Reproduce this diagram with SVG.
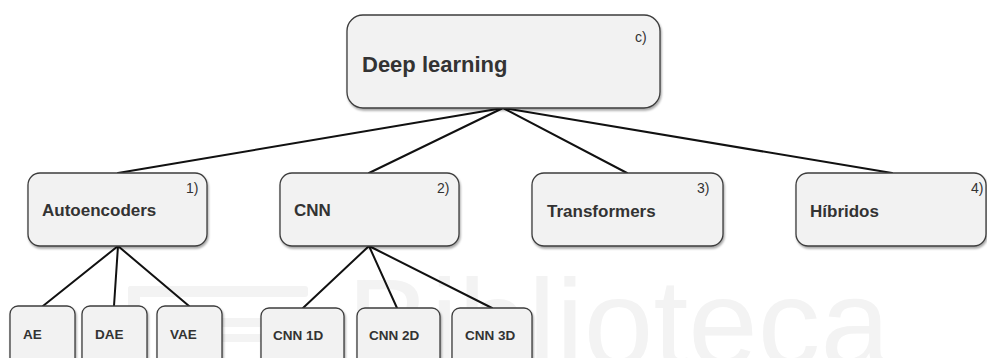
<svg xmlns="http://www.w3.org/2000/svg" width="987" height="358" viewBox="0 0 987 358">
  <defs>
    <filter id="shadow" x="-10%" y="-10%" width="120%" height="130%">
      <feDropShadow dx="1" dy="2" stdDeviation="1.2" flood-color="#000" flood-opacity="0.35"/>
    </filter>
    <style>
      .box { fill: #f2f2f2; stroke: #3c3c3c; stroke-width: 1.3; filter: url(#shadow); }
      .title { font-family: "Liberation Sans", Arial, sans-serif; font-weight: bold; fill: #333; }
      .tag { font-family: "Liberation Sans", Arial, sans-serif; font-size: 14px; fill: #333; }
      .leaf { font-family: "Liberation Sans", Arial, sans-serif; font-weight: bold; font-size: 13.5px; fill: #333; }
      .edge { stroke: #111; stroke-width: 2; fill: none; stroke-linecap: round; }
      .wm { fill: #f3f3f3; }
    </style>
  </defs>

  <rect width="987" height="358" fill="#ffffff"/>

  <!-- faint background watermark -->
  <g id="watermark">
    <rect class="wm" x="128" y="286" width="180" height="11" rx="3"/>
    <rect class="wm" x="128" y="286" width="12" height="72" rx="3"/>
    <rect class="wm" x="160" y="318" width="150" height="9" rx="2"/>
    <rect class="wm" x="160" y="334" width="150" height="8" rx="2"/>
    <text x="347" y="366" font-family="'Liberation Sans', Arial, sans-serif" font-size="125" class="wm" textLength="543" lengthAdjust="spacing">Biblioteca</text>
  </g>

  <!-- connectors -->
  <g id="connectors">
    <line class="edge" x1="503" y1="108" x2="118" y2="173"/>
    <line class="edge" x1="503" y1="108" x2="369" y2="173"/>
    <line class="edge" x1="503" y1="108" x2="627" y2="173"/>
    <line class="edge" x1="503" y1="108" x2="892" y2="173"/>
    <line class="edge" x1="118" y1="246" x2="43" y2="306"/>
    <line class="edge" x1="118" y1="246" x2="114" y2="306"/>
    <line class="edge" x1="118" y1="246" x2="189" y2="306"/>
    <line class="edge" x1="369" y1="246" x2="303" y2="308"/>
    <line class="edge" x1="369" y1="246" x2="397" y2="308"/>
    <line class="edge" x1="369" y1="246" x2="492" y2="308"/>
  </g>

  <!-- root -->
  <g id="deep-learning">
    <rect class="box" x="347" y="15" width="313" height="93" rx="16"/>
    <text class="title" x="362" y="72" font-size="22">Deep learning</text>
    <text class="tag" x="635" y="42">c)</text>
  </g>

  <!-- families -->
  <g id="autoencoders">
    <rect class="box" x="28" y="173" width="179" height="73" rx="12"/>
    <text class="title" x="42" y="216" font-size="17">Autoencoders</text>
    <text class="tag" x="186" y="193">1)</text>
  </g>
  <g id="cnn">
    <rect class="box" x="280" y="173" width="179" height="73" rx="12"/>
    <text class="title" x="294" y="216" font-size="17">CNN</text>
    <text class="tag" x="437" y="193">2)</text>
  </g>
  <g id="transformers">
    <rect class="box" x="532" y="173" width="191" height="73" rx="12"/>
    <text class="title" x="547" y="217" font-size="17">Transformers</text>
    <text class="tag" x="697" y="193">3)</text>
  </g>
  <g id="hibridos">
    <rect class="box" x="796" y="173" width="190" height="73" rx="12"/>
    <text class="title" x="810" y="217" font-size="17">Híbridos</text>
    <text class="tag" x="971" y="193">4)</text>
  </g>

  <!-- autoencoder variants -->
  <g id="ae">
    <rect class="box" x="10" y="306" width="65" height="62" rx="8"/>
    <text class="leaf" x="23" y="339">AE</text>
  </g>
  <g id="dae">
    <rect class="box" x="82" y="306" width="65" height="62" rx="8"/>
    <text class="leaf" x="95" y="339">DAE</text>
  </g>
  <g id="vae">
    <rect class="box" x="157" y="306" width="65" height="62" rx="8"/>
    <text class="leaf" x="170" y="339">VAE</text>
  </g>

  <!-- cnn variants -->
  <g id="cnn-1d">
    <rect class="box" x="261" y="308" width="83" height="60" rx="8"/>
    <text class="leaf" x="273" y="340">CNN 1D</text>
  </g>
  <g id="cnn-2d">
    <rect class="box" x="357" y="308" width="83" height="60" rx="8"/>
    <text class="leaf" x="369" y="340">CNN 2D</text>
  </g>
  <g id="cnn-3d">
    <rect class="box" x="452" y="308" width="80" height="60" rx="8"/>
    <text class="leaf" x="465" y="340">CNN 3D</text>
  </g>
</svg>
